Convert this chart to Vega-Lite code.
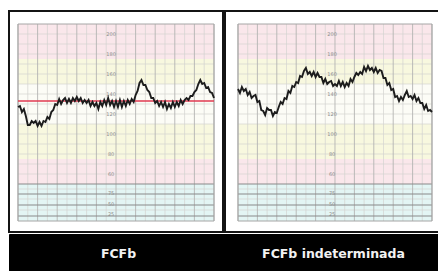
{
  "$schema": "https://vega.github.io/schema/vega-lite/v6.json",
  "background": "#ffffff",
  "padding": {"left": 8, "top": 10, "right": 0, "bottom": 0},
  "config": {"concat": {"spacing": 0}, "legend": {"disable": true}, "font": "DejaVu Sans"},
  "datasets": {
    "bands": [
      {"lo": 175, "hi": 210, "zone": "riesgo"},
      {"lo": 150, "hi": 175, "zone": "alerta"},
      {"lo": 110, "hi": 150, "zone": "normal"},
      {"lo": 75, "hi": 110, "zone": "alerta"},
      {"lo": 50, "hi": 75, "zone": "riesgo"},
      {"lo": 13, "hi": 50, "zone": "dinamica"}
    ],
    "vgrid": [
      {"t": 0, "k": "major"}, {"t": 0.5, "k": "minor"}, {"t": 1, "k": "major"}, {"t": 1.5, "k": "minor"},
      {"t": 2, "k": "major"}, {"t": 2.5, "k": "minor"}, {"t": 3, "k": "major"}, {"t": 3.5, "k": "minor"},
      {"t": 4, "k": "major"}, {"t": 4.5, "k": "minor"}, {"t": 5, "k": "major"}, {"t": 5.5, "k": "minor"},
      {"t": 6, "k": "major"}, {"t": 6.5, "k": "minor"}, {"t": 7, "k": "major"}, {"t": 7.5, "k": "minor"},
      {"t": 8, "k": "major"}, {"t": 8.5, "k": "minor"}, {"t": 9, "k": "major"}, {"t": 9.5, "k": "minor"},
      {"t": 10, "k": "major"}
    ],
    "hgrid": [
      {"v": 60}, {"v": 70}, {"v": 80}, {"v": 90}, {"v": 100}, {"v": 110}, {"v": 120}, {"v": 130},
      {"v": 140}, {"v": 150}, {"v": 160}, {"v": 170}, {"v": 180}, {"v": 190}, {"v": 200},
      {"v": 45}, {"v": 35}, {"v": 24}
    ],
    "uadark": [{"v": 50}, {"v": 40}, {"v": 29}, {"v": 18}],
    "labels": [
      {"v": 200, "s": "200"}, {"v": 180, "s": "180"}, {"v": 160, "s": "160"}, {"v": 140, "s": "140"},
      {"v": 120, "s": "120"}, {"v": 100, "s": "100"}, {"v": 80, "s": "80"}, {"v": 60, "s": "60"},
      {"v": 41, "s": "75"}, {"v": 30, "s": "50"}, {"v": 20, "s": "25"}
    ],
    "base": [{"bpm": 133}],
    "titles": [{"label": "FCFb"}, {"label": "FCFb indeterminada"}],
    "traceL": [
      {"t":0,"bpm":127},{"t":0.1,"bpm":128},{"t":0.2,"bpm":122},{"t":0.3,"bpm":125},{"t":0.4,"bpm":118},{"t":0.5,"bpm":109},{"t":0.6,"bpm":109},{"t":0.7,"bpm":113},{"t":0.8,"bpm":111},{"t":0.9,"bpm":113},
      {"t":1.0,"bpm":108},{"t":1.1,"bpm":112},{"t":1.2,"bpm":108},{"t":1.3,"bpm":113},{"t":1.4,"bpm":112},{"t":1.5,"bpm":117},{"t":1.6,"bpm":115},{"t":1.7,"bpm":122},{"t":1.8,"bpm":124},{"t":1.9,"bpm":130},
      {"t":2.0,"bpm":129},{"t":2.1,"bpm":135},{"t":2.2,"bpm":130},{"t":2.3,"bpm":134},{"t":2.4,"bpm":136},{"t":2.5,"bpm":131},{"t":2.6,"bpm":135},{"t":2.7,"bpm":131},{"t":2.8,"bpm":136},{"t":2.9,"bpm":133},
      {"t":3.0,"bpm":137},{"t":3.1,"bpm":133},{"t":3.2,"bpm":136},{"t":3.3,"bpm":131},{"t":3.4,"bpm":134},{"t":3.5,"bpm":131},{"t":3.6,"bpm":134},{"t":3.7,"bpm":128},{"t":3.8,"bpm":132},{"t":3.9,"bpm":128},
      {"t":4.0,"bpm":131},{"t":4.1,"bpm":125},{"t":4.2,"bpm":132},{"t":4.3,"bpm":128},{"t":4.4,"bpm":134},{"t":4.5,"bpm":129},{"t":4.6,"bpm":136},{"t":4.7,"bpm":129},{"t":4.8,"bpm":133},{"t":4.9,"bpm":127},
      {"t":5.0,"bpm":133},{"t":5.1,"bpm":127},{"t":5.2,"bpm":134},{"t":5.3,"bpm":127},{"t":5.4,"bpm":133},{"t":5.5,"bpm":128},{"t":5.6,"bpm":134},{"t":5.7,"bpm":130},{"t":5.8,"bpm":135},{"t":5.9,"bpm":132},
      {"t":6.0,"bpm":139},{"t":6.1,"bpm":143},{"t":6.2,"bpm":151},{"t":6.3,"bpm":154},{"t":6.4,"bpm":149},{"t":6.5,"bpm":149},{"t":6.6,"bpm":144},{"t":6.7,"bpm":142},{"t":6.8,"bpm":136},{"t":6.9,"bpm":136},
      {"t":7.0,"bpm":131},{"t":7.1,"bpm":133},{"t":7.2,"bpm":128},{"t":7.3,"bpm":132},{"t":7.4,"bpm":127},{"t":7.5,"bpm":132},{"t":7.6,"bpm":125},{"t":7.7,"bpm":130},{"t":7.8,"bpm":126},{"t":7.9,"bpm":132},
      {"t":8.0,"bpm":127},{"t":8.1,"bpm":132},{"t":8.2,"bpm":128},{"t":8.3,"bpm":134},{"t":8.4,"bpm":130},{"t":8.5,"bpm":134},{"t":8.6,"bpm":136},{"t":8.7,"bpm":134},{"t":8.8,"bpm":138},{"t":8.9,"bpm":138},
      {"t":9.0,"bpm":142},{"t":9.1,"bpm":144},{"t":9.2,"bpm":150},{"t":9.3,"bpm":154},{"t":9.4,"bpm":150},{"t":9.5,"bpm":151},{"t":9.6,"bpm":146},{"t":9.7,"bpm":147},{"t":9.8,"bpm":142},{"t":9.9,"bpm":141},
      {"t":10.0,"bpm":136}
    ],
    "traceR": [
      {"t":0,"bpm":145},{"t":0.1,"bpm":141},{"t":0.2,"bpm":147},{"t":0.3,"bpm":143},{"t":0.4,"bpm":145},{"t":0.5,"bpm":139},{"t":0.6,"bpm":142},{"t":0.7,"bpm":136},{"t":0.8,"bpm":138},{"t":0.9,"bpm":139},
      {"t":1.0,"bpm":132},{"t":1.1,"bpm":133},{"t":1.2,"bpm":124},{"t":1.3,"bpm":123},{"t":1.4,"bpm":119},{"t":1.5,"bpm":126},{"t":1.6,"bpm":124},{"t":1.7,"bpm":124},{"t":1.8,"bpm":118},{"t":1.9,"bpm":122},
      {"t":2.0,"bpm":121},{"t":2.1,"bpm":127},{"t":2.2,"bpm":132},{"t":2.3,"bpm":130},{"t":2.4,"bpm":136},{"t":2.5,"bpm":135},{"t":2.6,"bpm":143},{"t":2.7,"bpm":141},{"t":2.8,"bpm":148},{"t":2.9,"bpm":147},
      {"t":3.0,"bpm":152},{"t":3.1,"bpm":151},{"t":3.2,"bpm":158},{"t":3.3,"bpm":157},{"t":3.4,"bpm":163},{"t":3.5,"bpm":166},{"t":3.6,"bpm":160},{"t":3.7,"bpm":162},{"t":3.8,"bpm":158},{"t":3.9,"bpm":162},
      {"t":4.0,"bpm":157},{"t":4.1,"bpm":161},{"t":4.2,"bpm":157},{"t":4.3,"bpm":157},{"t":4.4,"bpm":151},{"t":4.5,"bpm":155},{"t":4.6,"bpm":150},{"t":4.7,"bpm":152},{"t":4.8,"bpm":153},{"t":4.9,"bpm":148},
      {"t":5.0,"bpm":150},{"t":5.1,"bpm":148},{"t":5.2,"bpm":153},{"t":5.3,"bpm":148},{"t":5.4,"bpm":152},{"t":5.5,"bpm":147},{"t":5.6,"bpm":151},{"t":5.7,"bpm":148},{"t":5.8,"bpm":155},{"t":5.9,"bpm":152},
      {"t":6.0,"bpm":157},{"t":6.1,"bpm":161},{"t":6.2,"bpm":159},{"t":6.3,"bpm":162},{"t":6.4,"bpm":160},{"t":6.5,"bpm":167},{"t":6.6,"bpm":163},{"t":6.7,"bpm":168},{"t":6.8,"bpm":164},{"t":6.9,"bpm":166},
      {"t":7.0,"bpm":162},{"t":7.1,"bpm":166},{"t":7.2,"bpm":161},{"t":7.3,"bpm":164},{"t":7.4,"bpm":163},{"t":7.5,"bpm":156},{"t":7.6,"bpm":156},{"t":7.7,"bpm":149},{"t":7.8,"bpm":151},{"t":7.9,"bpm":144},
      {"t":8.0,"bpm":145},{"t":8.1,"bpm":137},{"t":8.2,"bpm":138},{"t":8.3,"bpm":133},{"t":8.4,"bpm":137},{"t":8.5,"bpm":134},{"t":8.6,"bpm":139},{"t":8.7,"bpm":143},{"t":8.8,"bpm":137},{"t":8.9,"bpm":138},
      {"t":9.0,"bpm":135},{"t":9.1,"bpm":139},{"t":9.2,"bpm":133},{"t":9.3,"bpm":136},{"t":9.4,"bpm":131},{"t":9.5,"bpm":131},{"t":9.6,"bpm":125},{"t":9.7,"bpm":129},{"t":9.8,"bpm":123},{"t":9.9,"bpm":124},
      {"t":10.0,"bpm":122}
    ]
  },
  "resolve": {"scale": {"x": "independent", "y": "independent", "color": "independent"}},
  "vconcat": [
    {
      "resolve": {"scale": {"x": "independent", "y": "independent", "color": "independent"}},
      "hconcat": [
        {
          "width": 214, "height": 221,
          "view": {"fill": "#ffffff", "stroke": "#141414", "strokeWidth": 2},
          "layer": [
            {
              "data": {"name": "bands"},
              "mark": {"type": "rect"},
              "encoding": {
                "x": {"datum": 0, "type": "quantitative", "scale": {"domain": [-0.459, 10.459], "nice": false, "zero": false}, "axis": null},
                "x2": {"datum": 10},
                "y": {"field": "lo", "type": "quantitative", "scale": {"domain": [2, 223], "nice": false, "zero": false}, "axis": null},
                "y2": {"field": "hi"},
                "color": {"field": "zone", "type": "nominal", "scale": {"domain": ["riesgo", "alerta", "normal", "dinamica"], "range": ["#fae7eb", "#f8f8df", "#fcfcf6", "#e3f5f4"]}, "legend": null}
              }
            },
            {
              "data": {"name": "hgrid"},
              "mark": {"type": "rule", "color": "#d4d4d0", "strokeWidth": 0.7},
              "encoding": {"x": {"datum": 0, "type": "quantitative", "axis": null}, "x2": {"datum": 10}, "y": {"field": "v", "type": "quantitative", "axis": null}}
            },
            {
              "data": {"name": "vgrid"},
              "transform": [{"filter": "datum.k == 'minor'"}],
              "mark": {"type": "rule", "color": "#d2d2d0", "strokeWidth": 0.7},
              "encoding": {"x": {"field": "t", "type": "quantitative", "axis": null}, "y": {"datum": 13, "type": "quantitative", "axis": null}, "y2": {"datum": 210}}
            },
            {
              "data": {"name": "vgrid"},
              "transform": [{"filter": "datum.k == 'major'"}],
              "mark": {"type": "rule", "color": "#b4b4b2", "strokeWidth": 0.9},
              "encoding": {"x": {"field": "t", "type": "quantitative", "axis": null}, "y": {"datum": 13, "type": "quantitative", "axis": null}, "y2": {"datum": 210}}
            },
            {
              "data": {"name": "uadark"},
              "mark": {"type": "rule", "color": "#8a8a8a", "strokeWidth": 1.2},
              "encoding": {"x": {"datum": 0, "type": "quantitative", "axis": null}, "x2": {"datum": 10}, "y": {"field": "v", "type": "quantitative", "axis": null}}
            },
            {
              "data": {"values": [{}]},
              "mark": {"type": "rect", "filled": false, "stroke": "#a6a6a6", "strokeWidth": 1},
              "encoding": {"x": {"datum": 0, "type": "quantitative", "axis": null}, "x2": {"datum": 10}, "y": {"datum": 13, "type": "quantitative", "axis": null}, "y2": {"datum": 210}}
            },
            {
              "data": {"name": "labels"},
              "mark": {"type": "text", "fontSize": 5, "color": "#8e8e8e", "font": "DejaVu Sans"},
              "encoding": {"x": {"datum": 4.75, "type": "quantitative", "axis": null}, "y": {"field": "v", "type": "quantitative", "axis": null}, "text": {"field": "s"}}
            },
            {
              "data": {"name": "base"},
              "mark": {"type": "rule", "color": "#e03a50", "strokeWidth": 1.6},
              "encoding": {"x": {"datum": 0, "type": "quantitative", "axis": null}, "x2": {"datum": 10}, "y": {"field": "bpm", "type": "quantitative", "axis": null}}
            },
            {
              "data": {"name": "traceL"},
              "mark": {"type": "line", "color": "#1c1c1c", "strokeWidth": 1.9},
              "encoding": {"x": {"field": "t", "type": "quantitative", "axis": null}, "y": {"field": "bpm", "type": "quantitative", "axis": null}}
            }
          ]
        },
        {
          "width": 216, "height": 221,
          "view": {"fill": "#ffffff", "stroke": "#141414", "strokeWidth": 2},
          "layer": [
            {
              "data": {"name": "bands"},
              "mark": {"type": "rect"},
              "encoding": {
                "x": {"datum": 0, "type": "quantitative", "scale": {"domain": [-0.67, 10.464], "nice": false, "zero": false}, "axis": null},
                "x2": {"datum": 10},
                "y": {"field": "lo", "type": "quantitative", "scale": {"domain": [2, 223], "nice": false, "zero": false}, "axis": null},
                "y2": {"field": "hi"},
                "color": {"field": "zone", "type": "nominal", "scale": {"domain": ["riesgo", "alerta", "normal", "dinamica"], "range": ["#fae7eb", "#f8f8df", "#fcfcf6", "#e3f5f4"]}, "legend": null}
              }
            },
            {
              "data": {"name": "hgrid"},
              "mark": {"type": "rule", "color": "#d4d4d0", "strokeWidth": 0.7},
              "encoding": {"x": {"datum": 0, "type": "quantitative", "axis": null}, "x2": {"datum": 10}, "y": {"field": "v", "type": "quantitative", "axis": null}}
            },
            {
              "data": {"name": "vgrid"},
              "transform": [{"filter": "datum.k == 'minor'"}],
              "mark": {"type": "rule", "color": "#d2d2d0", "strokeWidth": 0.7},
              "encoding": {"x": {"field": "t", "type": "quantitative", "axis": null}, "y": {"datum": 13, "type": "quantitative", "axis": null}, "y2": {"datum": 210}}
            },
            {
              "data": {"name": "vgrid"},
              "transform": [{"filter": "datum.k == 'major'"}],
              "mark": {"type": "rule", "color": "#b4b4b2", "strokeWidth": 0.9},
              "encoding": {"x": {"field": "t", "type": "quantitative", "axis": null}, "y": {"datum": 13, "type": "quantitative", "axis": null}, "y2": {"datum": 210}}
            },
            {
              "data": {"name": "uadark"},
              "mark": {"type": "rule", "color": "#8a8a8a", "strokeWidth": 1.2},
              "encoding": {"x": {"datum": 0, "type": "quantitative", "axis": null}, "x2": {"datum": 10}, "y": {"field": "v", "type": "quantitative", "axis": null}}
            },
            {
              "data": {"values": [{}]},
              "mark": {"type": "rect", "filled": false, "stroke": "#a6a6a6", "strokeWidth": 1},
              "encoding": {"x": {"datum": 0, "type": "quantitative", "axis": null}, "x2": {"datum": 10}, "y": {"datum": 13, "type": "quantitative", "axis": null}, "y2": {"datum": 210}}
            },
            {
              "data": {"name": "labels"},
              "mark": {"type": "text", "fontSize": 5, "color": "#8e8e8e", "font": "DejaVu Sans"},
              "encoding": {"x": {"datum": 4.85, "type": "quantitative", "axis": null}, "y": {"field": "v", "type": "quantitative", "axis": null}, "text": {"field": "s"}}
            },
            {
              "data": {"name": "traceR"},
              "mark": {"type": "line", "color": "#1c1c1c", "strokeWidth": 1.9},
              "encoding": {"x": {"field": "t", "type": "quantitative", "axis": null}, "y": {"field": "bpm", "type": "quantitative", "axis": null}}
            }
          ]
        }
      ]
    },
    {
      "width": 430, "height": 40,
      "view": {"fill": "#000000", "stroke": "#000000", "strokeWidth": 1},
      "data": {"name": "titles"},
      "mark": {"type": "text", "color": "#f2f2f2", "fontSize": 12.5, "fontWeight": "bold", "font": "DejaVu Sans", "dx": 2, "baseline": "middle"},
      "encoding": {
        "x": {"field": "label", "type": "nominal", "sort": null, "scale": {"paddingInner": 0, "paddingOuter": 0}, "axis": null},
        "text": {"field": "label"}
      }
    }
  ]
}
